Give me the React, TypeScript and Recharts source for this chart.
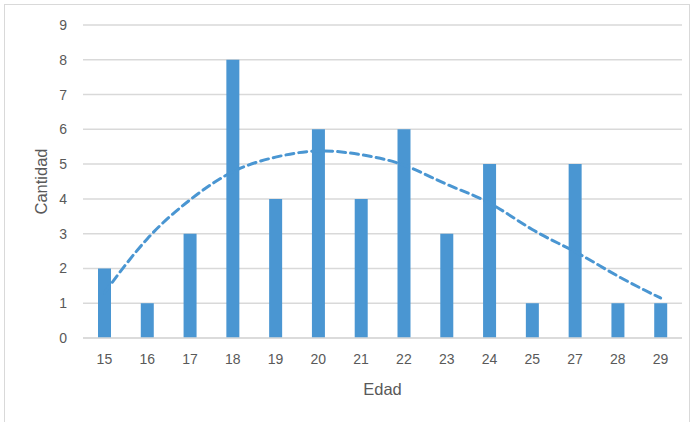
import React from 'react';
import { Bar, CartesianGrid, ComposedChart, Line, XAxis, YAxis } from 'recharts';

const ages = ['15', '16', '17', '18', '19', '20', '21', '22', '23', '24', '25', '27', '28', '29'];
const counts = [2, 1, 3, 8, 4, 6, 4, 6, 3, 5, 1, 5, 1, 1];
const trend = [1.3, 2.85, 3.97, 4.78, 5.2, 5.38, 5.27, 4.97, 4.42, 3.88, 3.12, 2.48, 1.78, 1.15];
const yTicks = [0, 1, 2, 3, 4, 5, 6, 7, 8, 9];

const data = ages.map((edad, i) => ({ edad, cantidad: counts[i], tendencia: trend[i] }));

const blue = '#4a96d2';
const textColor = '#595959';
const font = '"Liberation Sans", Arial, sans-serif';

export default function App() {
  return (
    <div style={{ position: 'absolute', left: 0, top: 0, width: 695, height: 422, background: '#fff' }}>
      <div
        style={{
          position: 'absolute',
          left: 4,
          top: 4,
          width: 686,
          height: 430,
          border: '1px solid #d9d9d9',
          boxSizing: 'border-box'
        }}
      />
      <ComposedChart
        width={695}
        height={422}
        data={data}
        margin={{ top: 25, right: 13, bottom: 0, left: 0 }}
        style={{ fontFamily: font }}
      >
        <CartesianGrid vertical={false} stroke="#d9d9d9" strokeWidth={1.5} />
        <XAxis
          dataKey="edad"
          height={84}
          axisLine={{ stroke: '#d9d9d9', strokeWidth: 1.5 }}
          tickLine={false}
          tickSize={0}
          tickMargin={16}
          tick={{ fill: textColor, fontSize: 14 }}
          label={{ value: 'Edad', position: 'insideTop', offset: 45, fill: textColor, fontSize: 16.5 }}
        />
        <YAxis
          width={83}
          domain={[0, 9]}
          ticks={yTicks}
          interval={0}
          axisLine={false}
          tickLine={false}
          tickSize={0}
          tickMargin={16}
          tick={{ fill: textColor, fontSize: 14 }}
          label={{
            value: 'Cantidad',
            angle: -90,
            position: 'insideLeft',
            offset: 41,
            fill: textColor,
            fontSize: 16.5,
            style: { textAnchor: 'middle' }
          }}
        />
        <Bar dataKey="cantidad" fill={blue} barSize={13} isAnimationActive={false} />
        <Line
          dataKey="tendencia"
          type="natural"
          stroke={blue}
          strokeWidth={3}
          strokeDasharray="8 5"
          strokeLinecap="round"
          dot={false}
          activeDot={false}
          isAnimationActive={false}
        />
      </ComposedChart>
    </div>
  );
}
